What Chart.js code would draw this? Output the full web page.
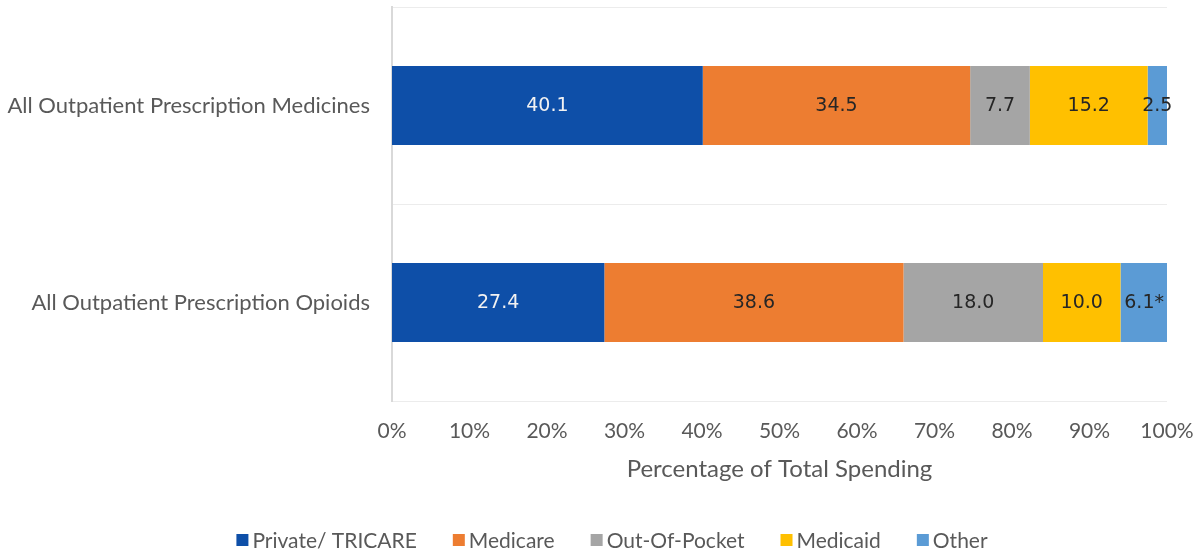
<!DOCTYPE html>
<html>
<head>
<meta charset="utf-8">
<script src="https://cdn.jsdelivr.net/npm/chart.js@4.4.1/dist/chart.umd.min.js"></script>
<style>
  html, body { margin: 0; padding: 0; background: #fff; }
  #wrap { width: 1201px; height: 554px; }
</style>
</head>
<body>
<div id="wrap"><canvas id="chart"></canvas></div>
<script>
const categories = ['All Outpatient Prescription Medicines', 'All Outpatient Prescription Opioids'];
const payers = ['Private/ TRICARE', 'Medicare', 'Out-Of-Pocket', 'Medicaid', 'Other'];
const privateTricare = [40.1, 27.4];
const medicare = [34.5, 38.6];
const outOfPocket = [7.7, 18.0];
const medicaid = [15.2, 10.0];
const other = [2.5, 6.1];
const otherNotes = ['', '*'];
const xTickValues = [0, 10, 20, 30, 40, 50, 60, 70, 80, 90, 100];

const colors = ['#0E4FA8', '#ED7D31', '#A5A5A5', '#FFC000', '#5B9BD5'];
const labelColors = ['#F2F2F2', '#262626', '#262626', '#262626', '#262626'];
const seriesValues = [privateTricare, medicare, outOfPocket, medicaid, other];
const seriesNotes = [null, null, null, null, otherNotes];

const labelFont = 'Lato, "Open Sans", sans-serif';
const gray = '#595959';

const datasets = payers.map(function (name, i) {
  return {
    label: name,
    data: seriesValues[i],
    backgroundColor: colors[i],
    borderWidth: 0,
    categoryPercentage: 1.0,
    barPercentage: 0.4,
    notes: seriesNotes[i],
    valueColor: labelColors[i]
  };
});

// value text in the middle of each segment
const segmentLabels = {
  id: 'segmentLabels',
  afterDatasetsDraw(chart) {
    const ctx = chart.ctx;
    ctx.save();
    ctx.font = '19px "DejaVu Sans", Verdana, sans-serif';
    ctx.textAlign = 'center';
    ctx.textBaseline = 'middle';
    chart.data.datasets.forEach(function (ds, i) {
      const meta = chart.getDatasetMeta(i);
      meta.data.forEach(function (bar, j) {
        let txt = ds.data[j].toFixed(1);
        if (ds.notes) txt += ds.notes[j];
        ctx.fillStyle = ds.valueColor;
        ctx.fillText(txt, (bar.x + bar.base) / 2, bar.y + 1);
      });
    });
    ctx.restore();
  }
};

// legend row under the axis title
const bottomLegend = {
  id: 'bottomLegend',
  afterDraw(chart) {
    const ctx = chart.ctx;
    const box = 12, boxGap = 4, itemGap = 36, y = 540, center = 612;
    ctx.save();
    ctx.font = '21px ' + labelFont;
    ctx.textBaseline = 'middle';
    const widths = chart.data.datasets.map(function (ds) {
      return box + boxGap + ctx.measureText(ds.label).width;
    });
    const total = widths.reduce(function (a, b) { return a + b; }, 0) + itemGap * (widths.length - 1);
    let x = center - total / 2;
    chart.data.datasets.forEach(function (ds, i) {
      ctx.fillStyle = ds.backgroundColor;
      ctx.fillRect(x, y - box / 2, box, box);
      ctx.fillStyle = gray;
      ctx.textAlign = 'left';
      ctx.fillText(ds.label, x + box + boxGap, y + 1);
      x += widths[i] + itemGap;
    });
    ctx.restore();
  }
};

new Chart(document.getElementById('chart'), {
  type: 'bar',
  data: { labels: categories, datasets: datasets },
  options: {
    indexAxis: 'y',
    responsive: true,
    maintainAspectRatio: false,
    animation: false,
    layout: { padding: { left: 0, right: 34, top: 7, bottom: 63 } },
    plugins: {
      legend: { display: false },
      tooltip: { enabled: false }
    },
    scales: {
      x: {
        stacked: true,
        min: 0,
        max: 100,
        afterBuildTicks: function (scale) {
          scale.ticks = xTickValues.map(function (v) { return { value: v }; });
        },
        afterFit: function (scale) {
          scale.height = 90;
          scale.paddingLeft = 0;
          scale.paddingRight = 0;
        },
        grid: { display: false, drawTicks: false },
        border: { display: false },
        ticks: {
          padding: 18,
          maxRotation: 0,
          color: gray,
          font: { family: labelFont, size: 21 },
          callback: function (v) { return v + '%'; }
        },
        title: {
          display: true,
          text: 'Percentage of Total Spending',
          color: gray,
          font: { family: labelFont, size: 24 },
          padding: { top: 0, bottom: 7 }
        }
      },
      y: {
        stacked: true,
        afterFit: function (scale) {
          scale.width = 392;
          scale.paddingTop = 0;
          scale.paddingBottom = 0;
        },
        grid: { color: '#ECECEC', lineWidth: 1, drawTicks: false, offset: true },
        border: { display: true, color: '#D9D9D9', width: 2 },
        ticks: {
          padding: 22,
          color: gray,
          font: { family: labelFont, size: 22 }
        }
      }
    }
  },
  plugins: [segmentLabels, bottomLegend]
});
</script>
</body>
</html>
